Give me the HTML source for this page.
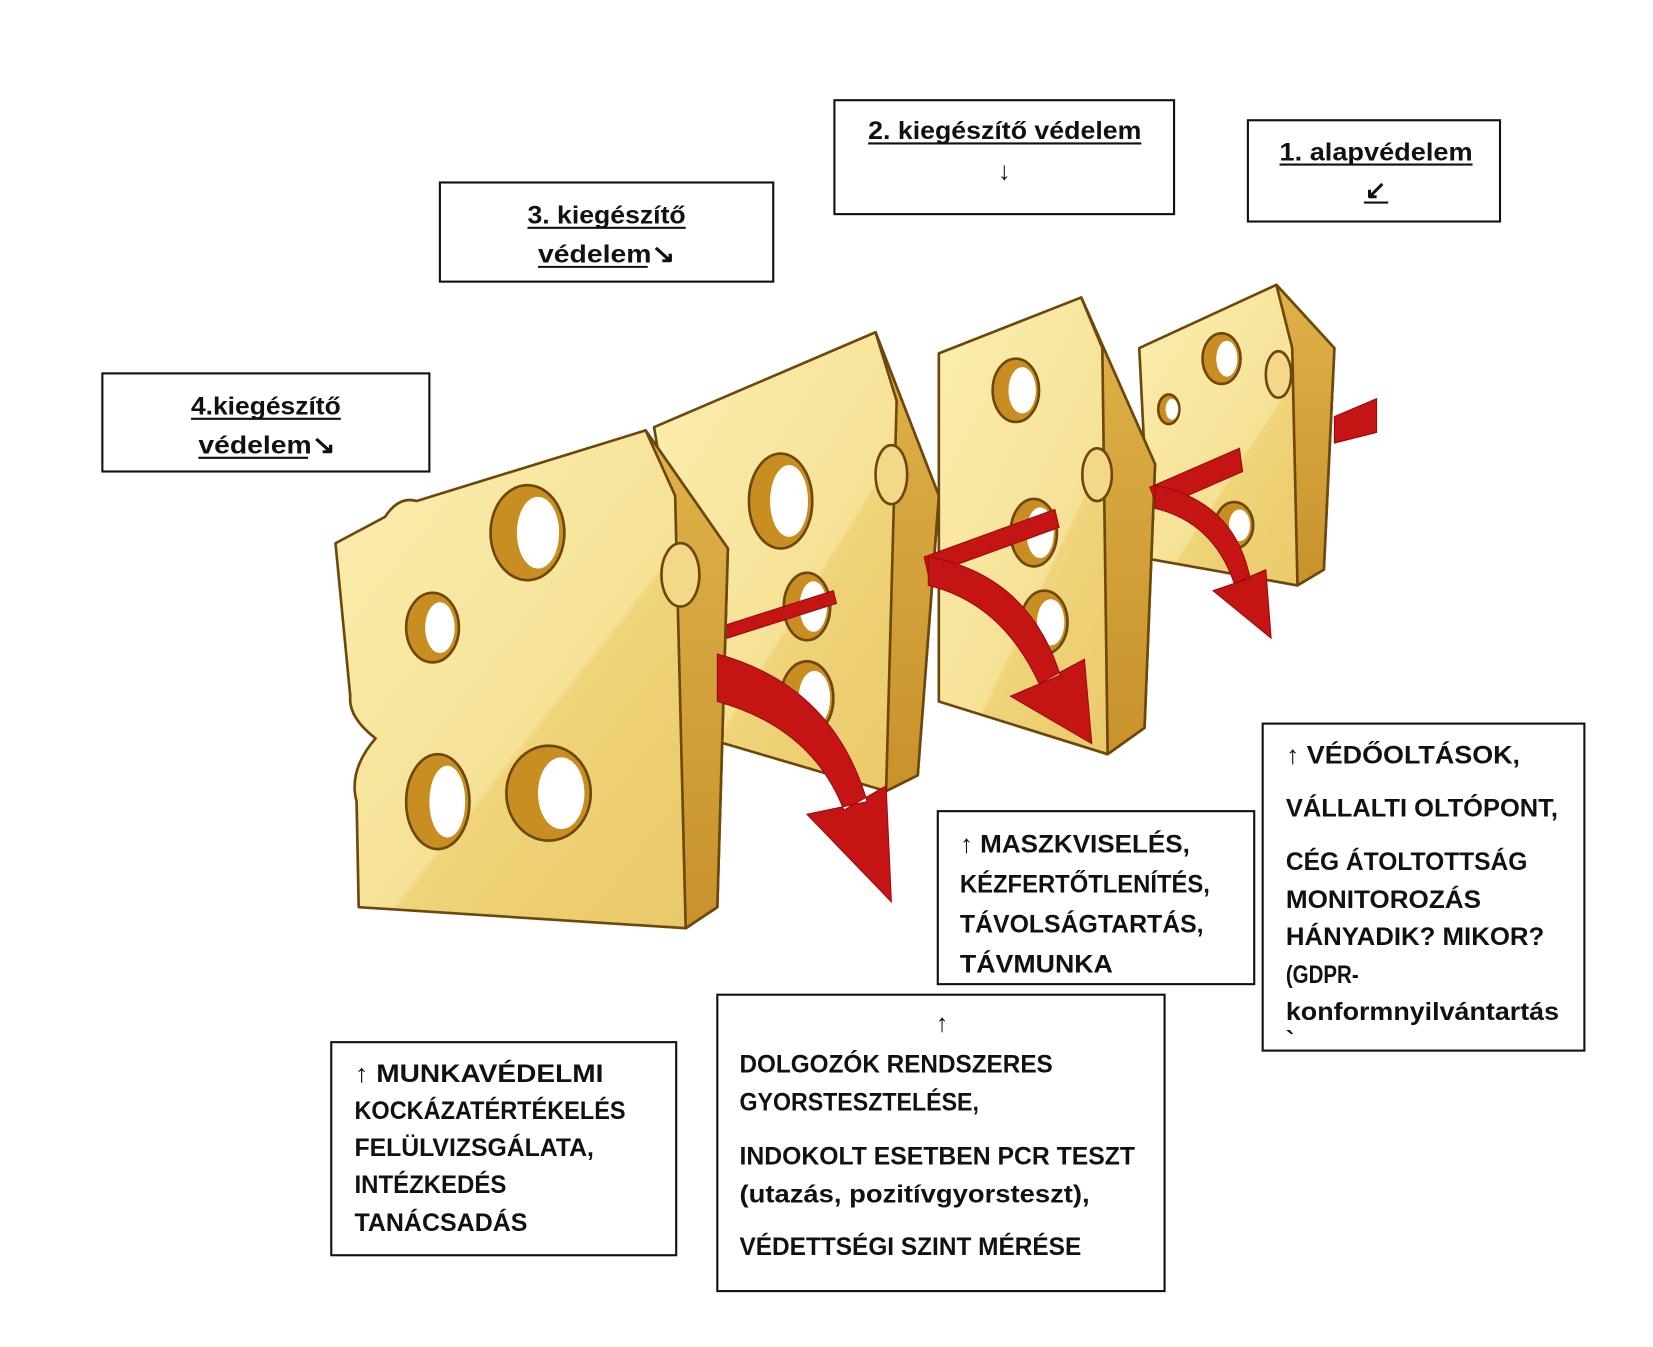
<!DOCTYPE html>
<html><head><meta charset="utf-8"><style>
html,body{margin:0;padding:0;background:#fff;}
svg{display:block}
text{font-family:"Liberation Sans",sans-serif;font-weight:bold;fill:#111;}
</style></head><body>
<svg width="1653" height="1347" viewBox="0 0 1567 1277" xmlns="http://www.w3.org/2000/svg">
<defs>
<linearGradient id="fg" x1="0" y1="0" x2="1" y2="1">
<stop offset="0" stop-color="#fbeeb0"/><stop offset="0.55" stop-color="#f6e296"/><stop offset="0.56" stop-color="#efd47a"/><stop offset="1" stop-color="#e9c766"/>
</linearGradient>
<linearGradient id="sg" x1="0" y1="0" x2="0" y2="1">
<stop offset="0" stop-color="#e0b24a"/><stop offset="1" stop-color="#c8922c"/>
</linearGradient>
</defs>
<g stroke="#6e470c" stroke-width="2.5" stroke-linejoin="round">
<!-- Slice D -->
<path d="M1080,330 L1210,270 L1265,330 L1255,540 L1230,555 L1090,530 Z" fill="url(#fg)"/>
<path d="M1210,270 L1265,330 L1255,540 L1230,555 L1225,330 Z" fill="url(#sg)"/>
<ellipse cx="1158" cy="340" rx="18" ry="24" fill="#c98e22"/><ellipse cx="1163" cy="340" rx="10" ry="17" fill="#fff" stroke="none"/>
<ellipse cx="1170" cy="498" rx="18" ry="22" fill="#c98e22"/><ellipse cx="1175" cy="498" rx="10" ry="15" fill="#fff" stroke="none"/>
<ellipse cx="1108" cy="388" rx="10" ry="14" fill="#c98e22"/><ellipse cx="1111" cy="388" rx="6" ry="10" fill="#fff" stroke="none"/>
<ellipse cx="1212" cy="355" rx="12" ry="22" fill="#f3d88a"/>
<!-- Slice C -->
<path d="M890,335 L1025,282 L1095,440 L1085,690 L1050,715 L890,665 Z" fill="url(#fg)"/>
<path d="M1025,282 L1095,440 L1085,690 L1050,715 L1045,330 Z" fill="url(#sg)"/>
<ellipse cx="963" cy="370" rx="22" ry="30" fill="#c98e22"/><ellipse cx="969" cy="370" rx="13" ry="22" fill="#fff" stroke="none"/>
<ellipse cx="980" cy="505" rx="22" ry="32" fill="#c98e22"/><ellipse cx="986" cy="505" rx="13" ry="24" fill="#fff" stroke="none"/>
<ellipse cx="990" cy="590" rx="22" ry="30" fill="#c98e22"/><ellipse cx="996" cy="590" rx="13" ry="22" fill="#fff" stroke="none"/>
<ellipse cx="1040" cy="450" rx="14" ry="25" fill="#f3d88a"/>
<!-- Slice B -->
<path d="M620,405 L830,315 L890,470 L870,735 L840,750 L670,700 Z" fill="url(#fg)"/>
<path d="M830,315 L890,470 L870,735 L840,750 L850,380 Z" fill="url(#sg)"/>
<ellipse cx="740" cy="475" rx="30" ry="45" fill="#c98e22"/><ellipse cx="748" cy="475" rx="18" ry="34" fill="#fff" stroke="none"/>
<ellipse cx="765" cy="575" rx="22" ry="32" fill="#c98e22"/><ellipse cx="771" cy="575" rx="13" ry="24" fill="#fff" stroke="none"/>
<ellipse cx="765" cy="662" rx="25" ry="35" fill="#c98e22"/><ellipse cx="772" cy="662" rx="15" ry="26" fill="#fff" stroke="none"/>
<ellipse cx="845" cy="450" rx="15" ry="28" fill="#f3d88a"/>
</g>
<!-- arrows behind front slice -->
<g fill="#c41414" stroke="#9a0a0a" stroke-width="1">
<path d="M1265,395 L1305,378 L1305,410 L1265,420 Z"/>
<path d="M1175,425 L1178,447 L1098,482 L1090,462 Z"/>
<path d="M1000,483 L1004,500 L880,545 L876,528 Z"/>
<path d="M790,560 L793,572 L680,608 L677,596 Z"/>
<path d="M1095,460 Q1170,475 1185,548 L1150,560 L1205,605 L1200,540 L1170,553 Q1150,495 1095,482 Z"/>
<path d="M880,528 Q975,545 1005,640 L958,660 L1035,705 L1028,625 L985,648 Q950,572 880,555 Z"/>
</g>
<g stroke="#6e470c" stroke-width="2.5" stroke-linejoin="round">
<!-- Slice A -->
<path d="M318,515 L365,490 Q378,470 395,475 L612,408 L690,520 L680,860 L650,880 L340,860 L338,760 Q330,730 356,700 Q330,680 332,660 Z" fill="url(#fg)"/>
<path d="M612,408 L690,520 L680,860 L650,880 L640,470 Z" fill="url(#sg)"/>
<ellipse cx="500" cy="505" rx="35" ry="45" fill="#c98e22"/><ellipse cx="510" cy="505" rx="20" ry="34" fill="#fff" stroke="none"/>
<ellipse cx="410" cy="595" rx="25" ry="33" fill="#c98e22"/><ellipse cx="417" cy="595" rx="14" ry="24" fill="#fff" stroke="none"/>
<ellipse cx="415" cy="760" rx="30" ry="45" fill="#c98e22"/><ellipse cx="424" cy="760" rx="17" ry="34" fill="#fff" stroke="none"/>
<ellipse cx="520" cy="752" rx="40" ry="45" fill="#c98e22"/><ellipse cx="532" cy="752" rx="22" ry="34" fill="#fff" stroke="none"/>
<ellipse cx="645" cy="545" rx="18" ry="30" fill="#f3d88a"/>
</g>
<g fill="#c41414" stroke="#9a0a0a" stroke-width="1">
<path d="M680,620 Q790,650 822,760 L765,772 L845,855 L840,745 L800,768 Q770,690 680,665 Z"/>
</g>
<!-- boxes -->
<g fill="#fff" stroke="#111" stroke-width="2">
<rect x="791" y="95" width="322" height="108"/>
<rect x="1183" y="114" width="239" height="96"/>
<rect x="417" y="173" width="316" height="94"/>
<rect x="97" y="354" width="310" height="93"/>
<rect x="1197" y="686" width="305" height="310"/>
<rect x="889" y="769" width="300" height="164"/>
<rect x="680" y="943" width="424" height="281"/>
<rect x="314" y="988" width="327" height="202"/>
</g>
<g font-size="24">
<text x="823" y="132" textLength="259" lengthAdjust="spacingAndGlyphs">2. kiegészítő védelem</text>
<line x1="823" y1="136" x2="1082" y2="136" stroke="#111" stroke-width="2"/>
<text x="952" y="170" text-anchor="middle">↓</text>
<text x="1213" y="152" textLength="183" lengthAdjust="spacingAndGlyphs">1. alapvédelem</text>
<line x1="1213" y1="156" x2="1396" y2="156" stroke="#111" stroke-width="2"/>
<text x="1304" y="188" text-anchor="middle">↙</text>
<line x1="1293" y1="192" x2="1316" y2="192" stroke="#111" stroke-width="2"/>
<text x="500" y="212" textLength="150" lengthAdjust="spacingAndGlyphs">3. kiegészítő</text>
<line x1="500" y1="216" x2="650" y2="216" stroke="#111" stroke-width="2"/>
<text x="510" y="249" textLength="130" lengthAdjust="spacingAndGlyphs">védelem↘</text>
<line x1="510" y1="253" x2="614" y2="253" stroke="#111" stroke-width="2"/>
<text x="181" y="393" textLength="142" lengthAdjust="spacingAndGlyphs">4.kiegészítő</text>
<line x1="181" y1="397" x2="323" y2="397" stroke="#111" stroke-width="2"/>
<text x="188" y="430" textLength="130" lengthAdjust="spacingAndGlyphs">védelem↘</text>
<line x1="188" y1="434" x2="292" y2="434" stroke="#111" stroke-width="2"/>

<text x="336" y="1026" textLength="236" lengthAdjust="spacingAndGlyphs">↑ MUNKAVÉDELMI</text>
<text x="336" y="1061" textLength="257" lengthAdjust="spacingAndGlyphs">KOCKÁZATÉRTÉKELÉS</text>
<text x="336" y="1096" textLength="227" lengthAdjust="spacingAndGlyphs">FELÜLVIZSGÁLATA,</text>
<text x="336" y="1131" textLength="144" lengthAdjust="spacingAndGlyphs">INTÉZKEDÉS</text>
<text x="336" y="1167" textLength="164" lengthAdjust="spacingAndGlyphs">TANÁCSADÁS</text>

<text x="893" y="978" text-anchor="middle">↑</text>
<text x="701" y="1017" textLength="297" lengthAdjust="spacingAndGlyphs">DOLGOZÓK RENDSZERES</text>
<text x="701" y="1053" textLength="227" lengthAdjust="spacingAndGlyphs">GYORSTESZTELÉSE,</text>
<text x="701" y="1104" textLength="375" lengthAdjust="spacingAndGlyphs">INDOKOLT ESETBEN  PCR TESZT</text>
<text x="701" y="1140" textLength="332" lengthAdjust="spacingAndGlyphs">(utazás, pozitívgyorsteszt),</text>
<text x="701" y="1190" textLength="324" lengthAdjust="spacingAndGlyphs">VÉDETTSÉGI SZINT MÉRÉSE</text>

<text x="910" y="808" textLength="218" lengthAdjust="spacingAndGlyphs">↑ MASZKVISELÉS,</text>
<text x="910" y="846" textLength="237" lengthAdjust="spacingAndGlyphs">KÉZFERTŐTLENÍTÉS,</text>
<text x="910" y="884" textLength="231" lengthAdjust="spacingAndGlyphs">TÁVOLSÁGTARTÁS,</text>
<text x="910" y="922" textLength="145" lengthAdjust="spacingAndGlyphs">TÁVMUNKA</text>

<text x="1219" y="724" textLength="222" lengthAdjust="spacingAndGlyphs">↑ VÉDŐOLTÁSOK,</text>
<text x="1219" y="774" textLength="258" lengthAdjust="spacingAndGlyphs">VÁLLALTI OLTÓPONT,</text>
<text x="1219" y="825" textLength="229" lengthAdjust="spacingAndGlyphs">CÉG ÁTOLTOTTSÁG</text>
<text x="1219" y="861" textLength="185" lengthAdjust="spacingAndGlyphs">MONITOROZÁS</text>
<text x="1219" y="896" textLength="245" lengthAdjust="spacingAndGlyphs">HÁNYADIK? MIKOR?</text>
<text x="1219" y="932" textLength="69" lengthAdjust="spacingAndGlyphs">(GDPR-</text>
<text x="1219" y="967" textLength="259" lengthAdjust="spacingAndGlyphs">konformnyilvántartás</text>
<text x="1219" y="994">`</text>
</g>
</svg>
</body></html>
